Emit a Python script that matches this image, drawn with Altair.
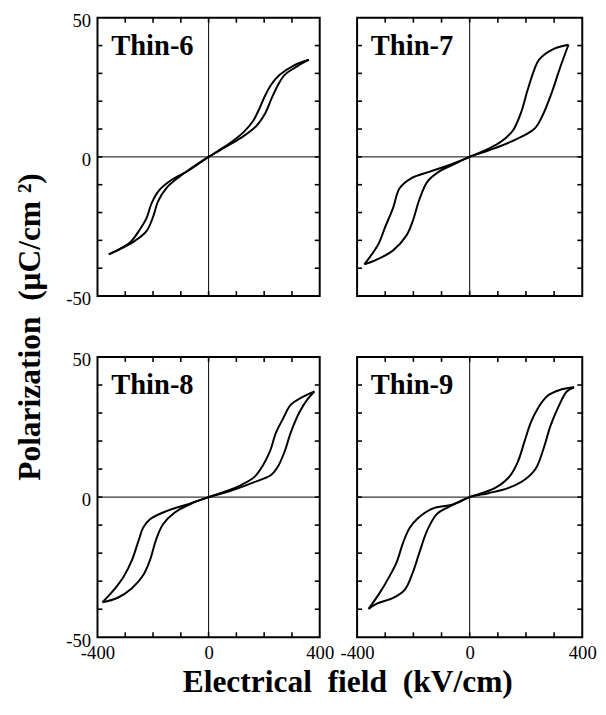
import altair as alt
import pandas as pd

# ---------------- data ----------------
E_RANGE = [-400, 400]
P_RANGE = [-50, 50]
x_tick_values = [-300, -200, -100, 0, 100, 200, 300]
y_tick_values = [-40, -30, -20, -10, 0, 10, 20, 30, 40]
x_label_values = [-400, 0, 400]
y_label_values = [-50, 0, 50]

panel_names = ["Thin-6", "Thin-7", "Thin-8", "Thin-9"]

# ascending branch (from -Emax to +Emax), descending branch (from +Emax to -Emax)
thin6_up_E = [-359, -306, -264, -223, -199, -182, -152, -105, -46, 0, 60, 119, 172, 202, 225, 247, 273, 320, 361]
thin6_up_P = [-35.0, -32.5, -30.1, -26.6, -21.3, -16.0, -11.2, -7.1, -2.9, 0, 3.5, 7.0, 11.1, 15.3, 20.6, 25.3, 29.4, 32.6, 34.9]
thin6_dn_E = [361, 308, 255, 225, 202, 184, 160, 125, 72, 0, -70, -134, -176, -205, -223, -247, -282, -329, -359]
thin6_dn_P = [34.9, 32.9, 29.4, 25.9, 21.7, 17.6, 12.9, 8.8, 4.6, 0, -4.8, -8.3, -11.8, -16.6, -21.9, -26.0, -30.7, -33.6, -35.0]

thin7_up_E = [-374, -336, -272, -225, -202, -179, -150, -109, -51, 0, 66, 147, 229, 258, 293, 322, 351]
thin7_up_P = [-38.6, -37.2, -33.6, -28.3, -23.0, -15.4, -8.9, -5.3, -2.4, 0, 2.3, 5.5, 10.0, 14.7, 23.5, 32.3, 40.3]
thin7_dn_E = [351, 299, 246, 229, 206, 182, 153, 112, 66, 0, -74, -144, -208, -249, -272, -301, -324, -374]
thin7_dn_P = [40.3, 38.8, 34.9, 31.2, 24.1, 15.8, 9.4, 5.5, 2.9, 0, -3.0, -5.4, -7.7, -11.3, -18.3, -25.4, -31.3, -38.6]

thin8_up_E = [-382, -329, -276, -235, -211, -188, -164, -123, -58, 0, 72, 155, 225, 249, 273, 296, 326, 355, 381]
thin8_up_P = [-37.5, -36.0, -32.5, -27.8, -22.5, -14.9, -9.7, -5.6, -2.1, 0, 2.0, 5.0, 7.9, 10.8, 16.1, 23.1, 30.1, 34.8, 37.7]
thin8_dn_E = [381, 332, 296, 267, 243, 220, 196, 166, 119, 60, 0, -70, -152, -211, -235, -252, -276, -306, -341, -382]
thin8_dn_P = [37.7, 35.4, 33.0, 27.8, 23.1, 16.1, 11.4, 7.3, 4.4, 2.0, 0, -2.4, -5.0, -7.9, -10.8, -15.5, -22.5, -28.4, -33.1, -37.5]

thin9_up_E = [-359, -330, -272, -231, -202, -179, -150, -115, -62, 0, 66, 136, 194, 235, 264, 287, 316, 345, 371]
thin9_up_P = [-39.9, -38.0, -36.0, -33.1, -26.9, -19.9, -11.7, -5.9, -2.9, 0, 1.4, 3.2, 6.1, 10.2, 17.8, 25.4, 32.4, 37.7, 39.2]
thin9_dn_E = [371, 322, 275, 240, 217, 194, 171, 141, 89, 0, -62, -132, -185, -214, -237, -260, -284, -318, -359]
thin9_dn_P = [39.2, 38.3, 36.0, 31.3, 26.6, 19.6, 12.6, 7.3, 3.2, 0, -2.7, -4.1, -7.6, -11.1, -16.4, -23.4, -28.1, -33.9, -39.9]

X_TITLE = "Electrical\u00a0\u00a0field\u00a0\u00a0(kV/cm)"
Y_TITLE = "Polarization\u00a0\u00a0(\u03bcC/cm\u00a0\u00b2)"

SERIF = "Liberation Serif"


def loop_frame(upE, upP, dnE, dnP):
    rows = []
    for i, (e, p) in enumerate(zip(upE, upP)):
        rows.append({"E": e, "P": p, "branch": "up", "order": i})
    for i, (e, p) in enumerate(zip(dnE, dnP)):
        rows.append({"E": e, "P": p, "branch": "down", "order": i})
    return pd.DataFrame(rows)


def panel(name, df, W, H, show_x, show_y, x_title=False, y_title=False):
    xscale = alt.Scale(domain=E_RANGE, nice=False, zero=False)
    yscale = alt.Scale(domain=P_RANGE, nice=False, zero=False)

    if show_x:
        xa = dict(values=x_label_values, labelExpr="datum.value + ''", ticks=False, tickSize=0,
                  domain=False, grid=False, labelFont=SERIF, labelFontSize=19, labelColor="black",
                  labelPadding=7, labelFlush=False, labelOverlap=False, labelBaseline="top")
        if x_title:
            xa.update(title=X_TITLE, titleX=254, titleY=55, titleAlign="center",
                      titleBaseline="alphabetic", titleFont=SERIF, titleFontSize=32,
                      titleFontWeight="bold", titleColor="black", titleAngle=0)
        else:
            xa.update(title=None)
        x_axis = alt.Axis(**xa)
    else:
        x_axis = None

    if show_y:
        ya = dict(values=y_label_values, labelExpr="datum.value + ''", ticks=False, tickSize=0,
                  domain=False, grid=False, labelFont=SERIF, labelFontSize=19, labelColor="black",
                  labelPadding=7, labelFlush=False, labelOverlap=False, labelOffset=3)
        if y_title:
            ya.update(title=Y_TITLE, titleX=-59, titleY=314, titleAlign="center",
                      titleBaseline="alphabetic", titleFont=SERIF, titleFontSize=32,
                      titleFontWeight="bold", titleColor="black", titleAngle=270)
        else:
            ya.update(title=None)
        y_axis = alt.Axis(**ya)
    else:
        y_axis = None

    xenc = alt.X("E:Q", scale=xscale, axis=x_axis)
    yenc = alt.Y("P:Q", scale=yscale, axis=y_axis)

    line = alt.Chart(df).mark_line(color="black", strokeWidth=2, interpolate="catmull-rom").encode(
        x=xenc, y=yenc, detail="branch:N", order="order:Q")

    zero_v = alt.Chart(pd.DataFrame({"E": [0]})).mark_rule(color="black", strokeWidth=1).encode(x=xenc)
    zero_h = alt.Chart(pd.DataFrame({"P": [0]})).mark_rule(color="black", strokeWidth=1).encode(y=yenc)

    xt = pd.DataFrame({"E": x_tick_values})
    yt = pd.DataFrame({"P": y_tick_values})
    tick_style = dict(color="black", strokeWidth=1.6)
    t_bottom = alt.Chart(xt).mark_rule(**tick_style).encode(x=xenc, y=alt.value(H), y2=alt.value(H - 5))
    t_top = alt.Chart(xt).mark_rule(**tick_style).encode(x=xenc, y=alt.value(0), y2=alt.value(5))
    t_left = alt.Chart(yt).mark_rule(**tick_style).encode(y=yenc, x=alt.value(0), x2=alt.value(5))
    t_right = alt.Chart(yt).mark_rule(**tick_style).encode(y=yenc, x=alt.value(W), x2=alt.value(W - 5))

    label = alt.Chart(pd.DataFrame({"name": [name]})).mark_text(
        align="left", baseline="alphabetic", font=SERIF, fontSize=29, fontWeight="bold", color="black"
    ).encode(x=alt.value(14), y=alt.value(38), text="name:N")

    return alt.layer(line, zero_v, zero_h, t_bottom, t_top, t_left, t_right, label).properties(
        width=W, height=H)


p6 = panel(panel_names[0], loop_frame(thin6_up_E, thin6_up_P, thin6_dn_E, thin6_dn_P), 226, 283,
           show_x=False, show_y=True, y_title=True)
p7 = panel(panel_names[1], loop_frame(thin7_up_E, thin7_up_P, thin7_dn_E, thin7_dn_P), 229, 283,
           show_x=False, show_y=False)
p8 = panel(panel_names[2], loop_frame(thin8_up_E, thin8_up_P, thin8_dn_E, thin8_dn_P), 226, 285,
           show_x=True, show_y=True, x_title=True)
p9 = panel(panel_names[3], loop_frame(thin9_up_E, thin9_up_P, thin9_dn_E, thin9_dn_P), 229, 285,
           show_x=True, show_y=False)

chart = alt.concat(p6, p7, p8, p9, columns=2, spacing={"row": 62, "column": 38}, bounds="flush").configure_view(
    stroke="black", strokeWidth=2
).properties(
    padding={"left": 5, "top": -3, "right": 0, "bottom": 0}, background="white"
)

chart.save("out.html", embed_options={"renderer": "svg", "actions": False})
